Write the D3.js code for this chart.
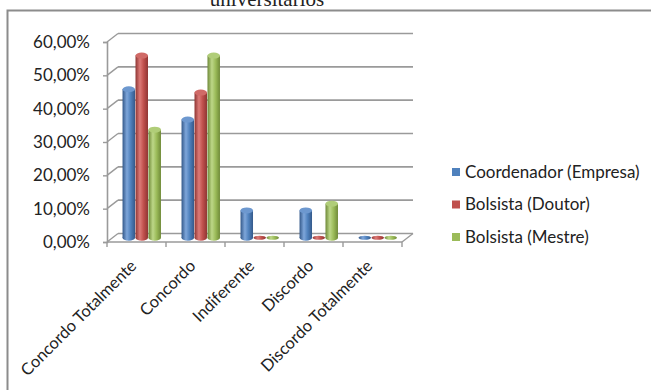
<!DOCTYPE html>
<html>
<head>
<meta charset="utf-8">
<script src="https://cdn.jsdelivr.net/npm/d3@7"></script>
<style>
  html, body { margin: 0; padding: 0; background: #fff; }
  svg { display: block; }
  text { font-family: Lato, "Open Sans", sans-serif; fill: #222; }
</style>
</head>
<body>
<svg id="chart" width="651" height="390"></svg>
<script>
// Response categories (x axis)
const categories = ["Concordo Totalmente", "Concordo", "Indiferente", "Discordo", "Discordo Totalmente"];
// Respondent groups
const seriesNames = ["Coordenador (Empresa)", "Bolsista (Doutor)", "Bolsista (Mestre)"];
// Share of answers per group, in category order
const coordenador = [0.4545, 0.3636, 0.0909, 0.0909, 0.0];
const doutor      = [0.5556, 0.4444, 0.0, 0.0, 0.0];
const mestre      = [0.3333, 0.5556, 0.0, 0.1111, 0.0];
const tickValues  = [0, 0.1, 0.2, 0.3, 0.4, 0.5, 0.6];
const titleText   = "universitários";

const seriesValues = [coordenador, doutor, mestre];
const palette = [
  { base: "#4F81BD", dark: "#34598a", light: "#7ea6da", top: "#6d98cf" },
  { base: "#C0504D", dark: "#8f3533", light: "#dc7a77", top: "#d06a67" },
  { base: "#9BBB59", dark: "#6f8a38", light: "#bdd788", top: "#b0cd78" }
];
const fontSize = "17px";

const svg = d3.select("#chart");
const defs = svg.append("defs");

// Outer chart frame (right and bottom edges run past the page)
svg.append("rect")
  .attr("x", 7.5).attr("y", 10.5).attr("width", 700).attr("height", 420)
  .attr("fill", "none").attr("stroke", "#8c8c8c").attr("stroke-width", 2);

// Title, partially above the frame
svg.append("text")
  .attr("x", 267).attr("y", 6)
  .attr("text-anchor", "middle")
  .style("font-family", "'Liberation Serif', 'Times New Roman', serif")
  .style("font-size", "21px")
  .text(titleText);

// 3D plot geometry: front face plus a depth offset for the back wall
const depth = { dx: 11, dy: -8.5 };
const x = d3.scaleBand().domain(categories).range([107, 402]);
const y = d3.scaleLinear().domain([0, 0.6]).range([242, 42]);
const fmt = d3.formatLocale({ decimal: ",", thousands: ".", grouping: [3], currency: ["", ""] }).format(".2%");

const gridColor = "#9a9a9a";
const grid = svg.append("g");

// Back wall gridlines
grid.selectAll("line.back").data(tickValues).join("line")
  .attr("x1", x.range()[0] + depth.dx).attr("x2", x.range()[1] + depth.dx)
  .attr("y1", d => y(d) + depth.dy).attr("y2", d => y(d) + depth.dy)
  .attr("stroke", gridColor).attr("stroke-width", 1.6);

// Side wall diagonals
grid.selectAll("line.side").data(tickValues).join("line")
  .attr("x1", x.range()[0]).attr("x2", x.range()[0] + depth.dx)
  .attr("y1", d => y(d)).attr("y2", d => y(d) + depth.dy)
  .attr("stroke", gridColor).attr("stroke-width", 1.4);

// Floor outline: front edge and right edge
grid.append("line")
  .attr("x1", x.range()[0]).attr("x2", x.range()[1])
  .attr("y1", y(0)).attr("y2", y(0))
  .attr("stroke", gridColor).attr("stroke-width", 1.6);
grid.append("line")
  .attr("x1", x.range()[1]).attr("x2", x.range()[1] + depth.dx)
  .attr("y1", y(0)).attr("y2", y(0) + depth.dy)
  .attr("stroke", gridColor).attr("stroke-width", 1.4);

// Vertical value axis on the front-left edge
const yAxis = d3.axisLeft(y).tickValues(tickValues).tickFormat(fmt).tickSize(4).tickPadding(13);
const yg = svg.append("g").attr("transform", `translate(${x.range()[0]},0)`).call(yAxis);
yg.select(".domain").attr("stroke", gridColor).attr("stroke-width", 1.6);
yg.selectAll(".tick line").attr("stroke", gridColor).attr("stroke-width", 1.4);
yg.selectAll(".tick text").style("font-size", fontSize).style("font-family", "Lato, sans-serif").attr("fill", "#222");

// Category axis ticks below the floor front edge
const bounds = categories.map(c => x(c)).concat([x.range()[1]]);
svg.append("g").selectAll("line").data(bounds).join("line")
  .attr("x1", d => d).attr("x2", d => d)
  .attr("y1", y(0)).attr("y2", y(0) + 5)
  .attr("stroke", gridColor).attr("stroke-width", 1.4);

// Category labels, rotated
svg.append("g").selectAll("text").data(categories).join("text")
  .attr("transform", c => `translate(${x(c) + x.bandwidth() / 2 + 1},${y(0) + 25}) rotate(-45)`)
  .attr("text-anchor", "end")
  .style("font-size", "16.5px")
  .text(c => c);

// Cylinder shading gradients
palette.forEach((p, i) => {
  const g = defs.append("linearGradient").attr("id", "cyl" + i)
    .attr("x1", "0%").attr("x2", "100%").attr("y1", "0%").attr("y2", "0%");
  g.append("stop").attr("offset", "0%").attr("stop-color", p.dark);
  g.append("stop").attr("offset", "35%").attr("stop-color", p.light);
  g.append("stop").attr("offset", "65%").attr("stop-color", p.base);
  g.append("stop").attr("offset", "100%").attr("stop-color", p.dark);
});

// Bars sit halfway into the plot depth
const mid = { dx: depth.dx / 2, dy: depth.dy / 2 };
const groupWidth = x.bandwidth() * 0.66;
const sub = d3.scaleBand().domain(d3.range(seriesNames.length)).range([0, groupWidth]);
const ry = 3;

const bars = svg.append("g");
categories.forEach((c, ci) => {
  const gx = x(c) + (x.bandwidth() - groupWidth) / 2 + mid.dx;
  seriesValues.forEach((vals, si) => {
    const v = vals[ci];
    const bx = gx + sub(si);
    const w = sub.bandwidth() - 0.5;
    const cx = bx + w / 2;
    const yBase = y(0) + mid.dy;
    const yTop = y(v) + mid.dy + ry;
    const g = bars.append("g");
    if (v > 0) {
      g.append("rect")
        .attr("x", bx).attr("y", yTop).attr("width", w).attr("height", yBase - yTop)
        .attr("fill", `url(#cyl${si})`);
      g.append("ellipse")
        .attr("cx", cx).attr("cy", yBase).attr("rx", w / 2).attr("ry", ry)
        .attr("fill", `url(#cyl${si})`);
      g.append("ellipse")
        .attr("cx", cx).attr("cy", yTop).attr("rx", w / 2).attr("ry", ry)
        .attr("fill", palette[si].top);
    } else {
      g.append("ellipse")
        .attr("cx", cx).attr("cy", yBase).attr("rx", w / 2).attr("ry", 2)
        .attr("fill", `url(#cyl${si})`);
    }
  });
});

// Legend
const legend = svg.append("g").selectAll("g").data(seriesNames).join("g")
  .attr("transform", (d, i) => `translate(452,${172 + i * 32.5})`);
legend.append("rect")
  .attr("x", 0).attr("y", -4).attr("width", 8).attr("height", 8)
  .attr("fill", (d, i) => palette[i].base);
legend.append("text")
  .attr("x", 13).attr("y", 0).attr("dy", "0.35em")
  .style("font-size", fontSize)
  .text(d => d);
</script>
</body>
</html>
